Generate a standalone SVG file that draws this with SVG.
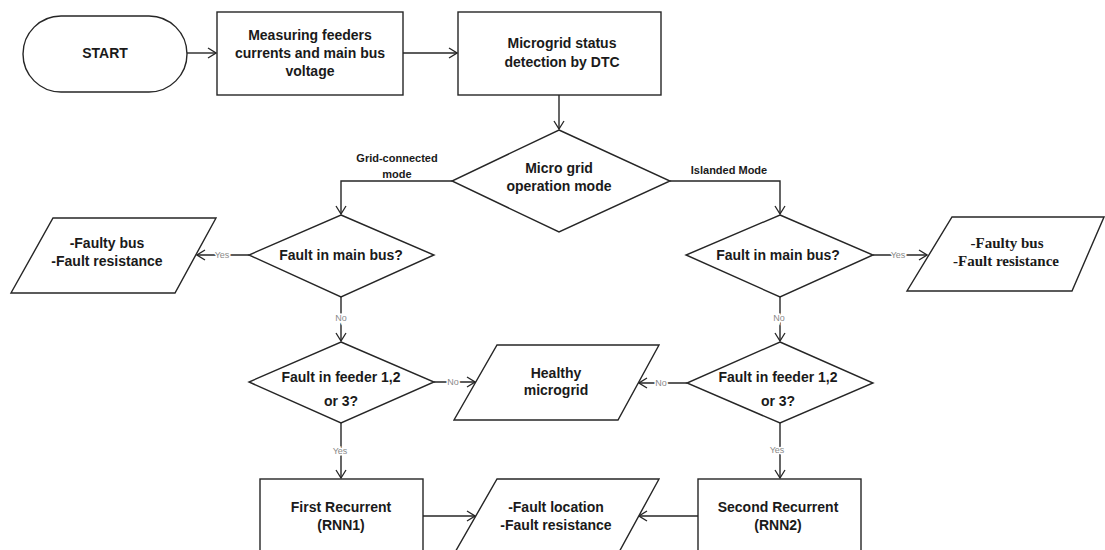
<svg xmlns="http://www.w3.org/2000/svg" width="1105" height="550" viewBox="0 0 1105 550">
<defs>
<style>
.s{fill:#fff;stroke:#262626;stroke-width:1.4}
.c{fill:none;stroke:#262626;stroke-width:1.4}
.t{font-family:"Liberation Sans",Arial,sans-serif;font-weight:bold;font-size:14px;fill:#1a1a1a;text-anchor:middle;dominant-baseline:central}
.tr{font-family:"Liberation Serif","Times New Roman",serif;font-weight:bold;font-size:15px;fill:#1a1a1a;text-anchor:middle;dominant-baseline:central}
.m{font-family:"Liberation Sans",Arial,sans-serif;font-weight:bold;font-size:11px;fill:#1a1a1a;text-anchor:middle;dominant-baseline:central}
.l{font-family:"Liberation Sans",Arial,sans-serif;font-size:9px;fill:#8a8a8a;text-anchor:middle;dominant-baseline:central;stroke:#fff;stroke-width:3;paint-order:stroke}
</style>
<marker id="a" markerWidth="10" markerHeight="12" refX="9" refY="6" orient="auto" markerUnits="userSpaceOnUse">
<path d="M1,1 L9,6 L1,11" fill="none" stroke="#262626" stroke-width="1.3"/>
</marker>
</defs>
<rect width="1105" height="550" fill="#fff"/>

<g id="connectors">
<line class="c" x1="187" y1="53" x2="216" y2="53" marker-end="url(#a)"/>
<line class="c" x1="403" y1="53" x2="457" y2="53" marker-end="url(#a)"/>
<line class="c" x1="559" y1="95" x2="559" y2="129" marker-end="url(#a)"/>
<polyline class="c" points="452,181 341,181 341,214" marker-end="url(#a)"/>
<polyline class="c" points="670,181 780,181 780,214" marker-end="url(#a)"/>
<line class="c" x1="249" y1="255" x2="197" y2="255" marker-end="url(#a)"/>
<line class="c" x1="873" y1="255" x2="927" y2="255" marker-end="url(#a)"/>
<line class="c" x1="341" y1="297" x2="341" y2="341" marker-end="url(#a)"/>
<line class="c" x1="780" y1="297" x2="780" y2="341" marker-end="url(#a)"/>
<line class="c" x1="434" y1="382" x2="475" y2="382" marker-end="url(#a)"/>
<line class="c" x1="687" y1="383" x2="639" y2="383" marker-end="url(#a)"/>
<line class="c" x1="341" y1="423" x2="341" y2="478" marker-end="url(#a)"/>
<line class="c" x1="780" y1="423" x2="780" y2="478" marker-end="url(#a)"/>
<line class="c" x1="423" y1="516" x2="475" y2="516" marker-end="url(#a)"/>
<line class="c" x1="698" y1="516" x2="639" y2="516" marker-end="url(#a)"/>
<text class="m" x="397" y="158">Grid-connected</text>
<text class="m" x="397" y="174">mode</text>
<text class="m" x="729" y="170">Islanded Mode</text>
<text class="l" x="222" y="255">Yes</text>
<text class="l" x="898" y="255">Yes</text>
<text class="l" x="341" y="318">No</text>
<text class="l" x="779" y="318">No</text>
<text class="l" x="453" y="382">No</text>
<text class="l" x="661" y="383">No</text>
<text class="l" x="340" y="451">Yes</text>
<text class="l" x="777" y="450">Yes</text>
</g>

<g id="start">
<rect class="s" x="23" y="16" width="164" height="76" rx="38" ry="38"/>
<text class="t" x="105" y="53">START</text>
</g>
<g id="measure">
<rect class="s" x="217" y="12" width="186" height="83"/>
<text class="t" x="310" y="35">Measuring feeders</text>
<text class="t" x="310" y="53">currents and main bus</text>
<text class="t" x="310" y="71">voltage</text>
</g>
<g id="status">
<rect class="s" x="458" y="12" width="203" height="83"/>
<text class="t" x="562" y="43">Microgrid status</text>
<text class="t" x="562" y="62">detection by DTC</text>
</g>
<g id="mode">
<polygon class="s" points="559,130 670,181 559,232 452,181"/>
<text class="t" x="559" y="168">Micro grid</text>
<text class="t" x="559" y="186">operation mode</text>
</g>
<g id="bus-left">
<polygon class="s" points="341,215 434,255 341,297 249,255"/>
<text class="t" x="341" y="255">Fault in main bus?</text>
</g>
<g id="bus-right">
<polygon class="s" points="780,215 873,255 780,297 686,255"/>
<text class="t" x="778" y="255">Fault in main bus?</text>
</g>
<g id="out-left">
<polygon class="s" points="53,218 216,218 175,293 11,293"/>
<text class="t" x="107" y="243">-Faulty bus</text>
<text class="t" x="107" y="261">-Fault resistance</text>
</g>
<g id="out-right">
<polygon class="s" points="952,217 1104,217 1072,291 907,291"/>
<text class="tr" x="1007" y="243">-Faulty bus</text>
<text class="tr" x="1006" y="261">-Fault resistance</text>
</g>
<g id="feeder-left">
<polygon class="s" points="341,342 434,382 341,423 249,382"/>
<text class="t" x="341" y="377">Fault in feeder 1,2</text>
<text class="t" x="341" y="401">or 3?</text>
</g>
<g id="feeder-right">
<polygon class="s" points="780,342 873,383 780,423 687,383"/>
<text class="t" x="778" y="377">Fault in feeder 1,2</text>
<text class="t" x="778" y="401">or 3?</text>
</g>
<g id="healthy">
<polygon class="s" points="497,345 659,345 618,420 454,420"/>
<text class="t" x="556" y="373">Healthy</text>
<text class="t" x="556" y="390">microgrid</text>
</g>
<g id="rnn1">
<rect class="s" x="260" y="479" width="163" height="80"/>
<text class="t" x="341" y="507">First Recurrent</text>
<text class="t" x="341" y="525">(RNN1)</text>
</g>
<g id="rnn2">
<rect class="s" x="698" y="479" width="163" height="80"/>
<text class="t" x="778" y="507">Second Recurrent</text>
<text class="t" x="778" y="525">(RNN2)</text>
</g>
<g id="location">
<polygon class="s" points="497,479 659,479 618,554 454,554"/>
<text class="t" x="556" y="507">-Fault location</text>
<text class="t" x="556" y="525">-Fault resistance</text>
</g>
</svg>
